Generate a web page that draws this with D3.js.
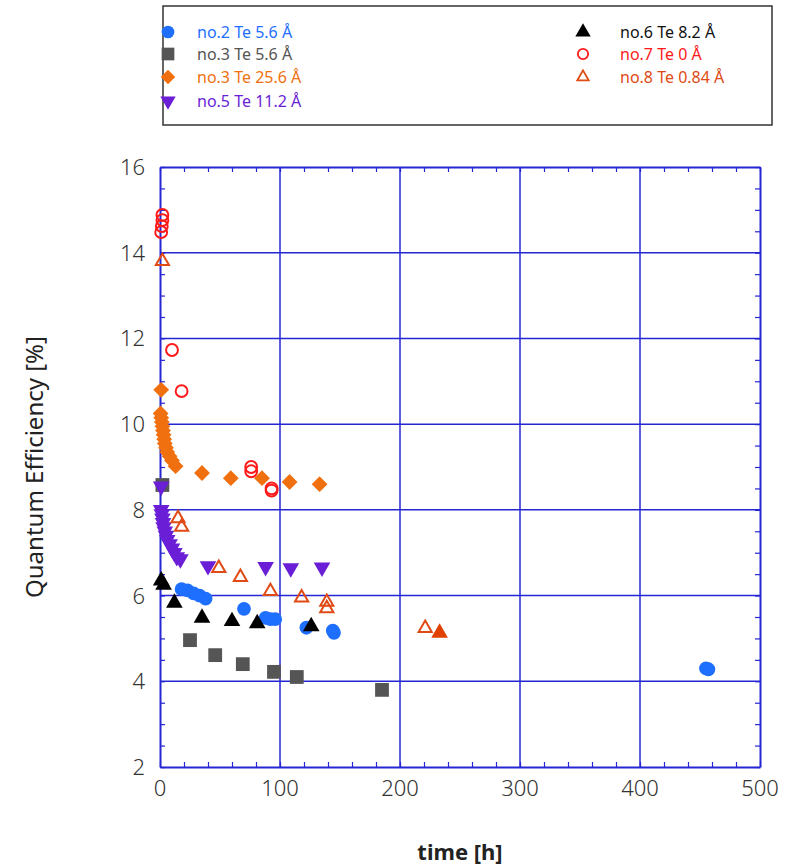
<!DOCTYPE html>
<html>
<head>
<meta charset="utf-8">
<script src="https://cdn.jsdelivr.net/npm/d3@7"></script>
<style>
  body { margin: 0; background: #fff; }
  svg { font-family: "Noto Sans", "DejaVu Sans", sans-serif; }
</style>
</head>
<body>
<script>
// --- data: [time h, QE %] ---
const no2_56 = [[18,6.15],[23,6.12],[28,6.05],[33,6.0],[38,5.93],[70,5.69],[88,5.48],[92,5.45],[96,5.45],[122,5.25],[144,5.18],[145,5.13],[455,4.3],[457,4.28]];
const no3_56 = [[2,8.58],[25,4.96],[46,4.61],[69,4.4],[95,4.22],[114,4.1],[185,3.8]];
const no3_256 = [[1,10.8],[0.5,10.25],[1,10.15],[1.5,10.05],[2,9.95],[2.5,9.85],[3,9.75],[3.5,9.65],[4,9.55],[5,9.45],[6,9.35],[8,9.25],[10,9.15],[13,9.02],[35,8.86],[59,8.74],[85,8.74],[108,8.65],[133,8.6]];
const no5_112 = [[1,8.55],[1,8.0],[1.5,7.9],[2,7.8],[2.5,7.7],[3,7.6],[4,7.5],[5,7.4],[6,7.3],[8,7.2],[10,7.1],[12,7.0],[14,6.9],[17,6.85],[40,6.69],[88,6.67],[109,6.64],[135,6.66]];
const no6_82 = [[1,6.35],[3,6.25],[12,5.83],[35,5.48],[60,5.4],[81,5.35],[126,5.28]];
const no7_0 = [[2,14.88],[2,14.76],[1.5,14.62],[1,14.48],[10,11.73],[18,10.77],[76,9.0],[76,8.9],[93,8.5],[93,8.45]];
const no8_084 = [[2,13.8],[15,7.8],[18,7.6],[49,6.64],[67,6.43],[92,6.1],[118,5.95],[139,5.85],[139,5.7],[221,5.24]];
const no8_filled = [[233,5.13]];

const xTicks = [0,100,200,300,400,500];
const yTicks = [2,4,6,8,10,12,14,16];

const series = [
  {name: "no.2 Te 5.6 Å",  data: no2_56,  shape: "circle",  fill: true,  color: "#1f6fff", col: 0, row: 0},
  {name: "no.3 Te 5.6 Å",  data: no3_56,  shape: "square",  fill: true,  color: "#555555", col: 0, row: 1},
  {name: "no.3 Te 25.6 Å", data: no3_256, shape: "diamond", fill: true,  color: "#f07010", col: 0, row: 2},
  {name: "no.5 Te 11.2 Å", data: no5_112, shape: "down",    fill: true,  color: "#6a1fd6", col: 0, row: 3},
  {name: "no.6 Te 8.2 Å",  data: no6_82,  shape: "up",      fill: true,  color: "#000000", col: 1, row: 0},
  {name: "no.7 Te 0 Å",    data: no7_0,   shape: "circle",  fill: false, color: "#ff1a1a", col: 1, row: 1},
  {name: "no.8 Te 0.84 Å", data: no8_084, shape: "up",      fill: false, color: "#e04a14", col: 1, row: 2},
  {name: null,             data: no8_filled, shape: "up",   fill: true,  color: "#e04000"}
];

const W = 790, H = 868;
const svg = d3.select("body").append("svg").attr("width", W).attr("height", H);

const x = d3.scaleLinear().domain([0, 500]).range([160, 760]);
const y = d3.scaleLinear().domain([2, 16]).range([767, 167]);
const axisColor = "#2626d4";

// grid
const g = svg.append("g");
g.selectAll(".vg").data(xTicks.slice(1, -1)).enter().append("line")
  .attr("x1", d => x(d)).attr("x2", d => x(d)).attr("y1", y(2)).attr("y2", y(16))
  .attr("stroke", axisColor).attr("stroke-width", 1.5);
g.selectAll(".hg").data(yTicks.slice(1, -1)).enter().append("line")
  .attr("y1", d => y(d)).attr("y2", d => y(d)).attr("x1", x(0)).attr("x2", x(500))
  .attr("stroke", axisColor).attr("stroke-width", 1.5);

// axes with inward minor ticks
const minorX = d3.range(0, 501, 20);
const minorY = d3.range(2, 16.01, 0.5);
function axisStyle(sel) {
  sel.selectAll(".domain").attr("stroke", axisColor).attr("stroke-width", 2);
  sel.selectAll(".tick line").attr("stroke", axisColor).attr("stroke-width", 1.2);
  sel.selectAll("text").remove();
}
svg.append("g").attr("transform", `translate(0,${y(2)})`)
  .call(d3.axisBottom(x).tickValues(minorX).tickSize(-5).tickSizeOuter(0)).call(axisStyle);
svg.append("g").attr("transform", `translate(0,${y(16)})`)
  .call(d3.axisTop(x).tickValues(minorX).tickSize(-5).tickSizeOuter(0)).call(axisStyle);
svg.append("g").attr("transform", `translate(${x(0)},0)`)
  .call(d3.axisLeft(y).tickValues(minorY).tickSize(-5).tickSizeOuter(0)).call(axisStyle);
svg.append("g").attr("transform", `translate(${x(500)},0)`)
  .call(d3.axisRight(y).tickValues(minorY).tickSize(-5).tickSizeOuter(0)).call(axisStyle);

// tick labels
svg.append("g").selectAll("text").data(xTicks).enter().append("text")
  .attr("x", d => x(d)).attr("y", 796).attr("text-anchor", "middle")
  .attr("font-size", 22).attr("font-weight", 300).attr("fill", "#333").text(d => d);
svg.append("g").selectAll("text").data(yTicks).enter().append("text")
  .attr("x", 145).attr("y", d => y(d) + 8).attr("text-anchor", "end")
  .attr("font-size", 22).attr("font-weight", 300).attr("fill", "#333").text(d => d);

// axis titles
svg.append("text").attr("transform", "translate(43,467) rotate(-90)")
  .attr("text-anchor", "middle").attr("font-size", 24).attr("fill", "#222")
  .text("Quantum Efficiency [%]");
svg.append("text").attr("x", 460).attr("y", 860).attr("text-anchor", "middle")
  .attr("font-size", 22).attr("font-weight", "bold").attr("fill", "#222")
  .text("time [h]");

// markers
const sizes = {circle: 150, square: 190, diamond: 125, up: 120, down: 120};
function shapePath(shape, filled, scale) {
  const type = shape === "circle" ? d3.symbolCircle
    : (shape === "square" || shape === "diamond") ? d3.symbolSquare
    : d3.symbolTriangle;
  let size = sizes[shape];
  if (!filled) size = shape === "circle" ? 110 : 75;
  return d3.symbol(type, size * scale)();
}
function symbolRotate(shape) {
  if (shape === "diamond") return 45;
  if (shape === "down") return 180;
  return 0;
}

series.forEach(s => {
  svg.append("g").selectAll("path").data(s.data).enter().append("path")
    .attr("d", shapePath(s.shape, s.fill, 1))
    .attr("transform", d => `translate(${x(d[0])},${y(d[1])}) rotate(${symbolRotate(s.shape)})`)
    .attr("fill", s.fill ? s.color : "none")
    .attr("stroke", s.fill ? "none" : s.color)
    .attr("stroke-width", s.fill ? 0 : 2);
});

// legend
const lg = svg.append("g");
lg.append("rect").attr("x", 163).attr("y", 6).attr("width", 609).attr("height", 119)
  .attr("fill", "#fff").attr("stroke", "#333").attr("stroke-width", 1.5);
const colX = [168, 583], textX = [197, 620], rowY = [32, 54, 77, 101];
series.filter(s => s.name).forEach(s => {
  const mx = colX[s.col], my = rowY[s.row];
  lg.append("path").attr("d", shapePath(s.shape, s.fill, s.fill ? 0.85 : 0.75))
    .attr("transform", `translate(${mx},${my}) rotate(${symbolRotate(s.shape)})`)
    .attr("fill", s.fill ? s.color : "none")
    .attr("stroke", s.fill ? "none" : s.color).attr("stroke-width", 1.8);
  lg.append("text").attr("x", textX[s.col]).attr("y", my + 6)
    .attr("font-size", 16).attr("fill", s.color === "#000000" ? "#111" : s.color)
    .text(s.name);
});
</script>
</body>
</html>
